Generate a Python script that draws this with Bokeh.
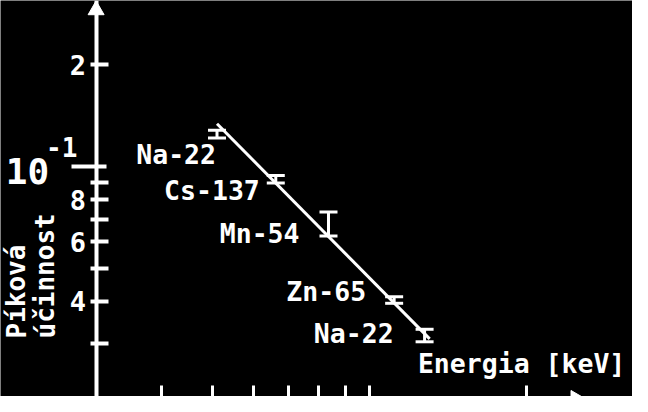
from bokeh.plotting import figure
from bokeh.models import ColumnDataSource, FixedTicker, Label, LogAxis, TeeHead, Whisker, Range1d
from bokeh.core.properties import value
from bokeh.embed import file_html
from bokeh.resources import INLINE

# body kalibrace: izotop, energie piku [keV], pikova ucinnost s chybou
izotopy = ["Na-22", "Cs-137", "Mn-54", "Zn-65", "Na-22"]
energie = [511, 662, 835, 1115, 1275]
ucinnost = [0.1249, 0.0919, 0.0660, 0.0404, 0.0317]
ucinnost_horni = [0.1282, 0.0943, 0.0735, 0.0413, 0.0331]
ucinnost_dolni = [0.1217, 0.0895, 0.0624, 0.0395, 0.0304]

# prolozena primka (krajni body)
fit_energie = [511, 1304]
fit_ucinnost = [0.134, 0.031]

# osy
y_ticks = [0.03, 0.04, 0.05, 0.06, 0.07, 0.08, 0.09, 0.2]
y_tick_labels = ["", "4", "", "6", "", "8", "", "2"]
x_ticks = [400, 500, 600, 700, 800, 900, 1000, 2000]
y_osa_x = 300       # energie, kde stoji svisla osa
x_osa_y = 0.02014   # ucinnost, kde lezi vodorovna osa (pod dolnim okrajem)

FONT = "DejaVu Sans Mono"
BILA = "white"

p = figure(
    width=632, height=396,
    x_axis_type="log", y_axis_type="log",
    x_axis_location=None, y_axis_location=None,
    x_range=Range1d(196.9, 3186), y_range=Range1d(0.02095, 0.3100),
    output_backend="svg", toolbar_location=None,
    background_fill_color="black", border_fill_color="black",
    outline_line_color=None, min_border=0,
)
p.grid.visible = False

# svisla osa
yaxis = LogAxis(
    fixed_location=y_osa_x,
    ticker=FixedTicker(ticks=y_ticks),
    major_label_overrides=dict(zip(y_ticks, y_tick_labels)),
    axis_line_color=BILA, axis_line_width=4,
    major_tick_line_color=BILA, major_tick_line_width=4,
    major_tick_in=12, major_tick_out=6, minor_tick_line_color=None,
    major_label_standoff=4,
    major_label_text_color=BILA, major_label_text_font=FONT,
    major_label_text_font_style="bold", major_label_text_font_size="27px",
)
p.add_layout(yaxis, "left")

# dlouha znacka u 10^-1
dekada = LogAxis(
    fixed_location=y_osa_x,
    ticker=FixedTicker(ticks=[0.1]),
    major_label_overrides={0.1: ""},
    axis_line_color=None,
    major_tick_line_color=BILA, major_tick_line_width=4,
    major_tick_in=10, major_tick_out=25, minor_tick_line_color=None,
)
p.add_layout(dekada, "left")

# vodorovna osa (pod okrajem obrazku, vidi se jen znacky)
xaxis = LogAxis(
    fixed_location=x_osa_y,
    ticker=FixedTicker(ticks=x_ticks),
    axis_line_color=BILA, axis_line_width=4,
    major_tick_line_color=BILA, major_tick_line_width=3,
    major_tick_in=17, major_tick_out=0, minor_tick_line_color=None,
    major_label_text_alpha=0,
)
p.add_layout(xaxis, "below")

# sipky os
p.scatter(x=[y_osa_x], y=[0.2904], marker="triangle", size=16,
          color=BILA, line_color=BILA)
p.scatter(x=[2480], y=[0.02067], marker="triangle", size=16, angle=-1.5708,
          color=BILA, line_color=BILA)

# popisek 10^-1
p.text(x=[y_osa_x], y=[0.1], text=["10"], x_offset=-47, y_offset=4,
       text_align="right", text_baseline="middle", text_color=BILA,
       text_font=value(FONT), text_font_size="36px", text_font_style="bold")
p.text(x=[y_osa_x], y=[0.1], text=["-1"], x_offset=-50, y_offset=-20,
       text_align="left", text_baseline="middle", text_color=BILA,
       text_font=value(FONT), text_font_size="26px", text_font_style="bold")

# primka
p.line(fit_energie, fit_ucinnost, line_color=BILA, line_width=3)

# chybove useky
src = ColumnDataSource(data=dict(
    x=energie, y=ucinnost, horni=ucinnost_horni, dolni=ucinnost_dolni,
    izotop=izotopy,
    dx=[-1, -16, -29, -28, -31], dy=[20, 11, 6, -8, -2],
))
p.add_layout(Whisker(
    source=src, base="x", upper="horni", lower="dolni", dimension="height",
    line_color=BILA, line_width=3,
    upper_head=TeeHead(size=18, line_color=BILA, line_width=3),
    lower_head=TeeHead(size=18, line_color=BILA, line_width=3),
))

# nazvy izotopu
p.text(x="x", y="y", text="izotop", x_offset="dx", y_offset="dy", source=src,
       text_align="right", text_baseline="middle", text_color=BILA,
       text_font=value(FONT), text_font_size="26.5px", text_font_style="bold")

# nazvy os
p.add_layout(Label(x=1238, y=0.0262, text="Energia [keV]",
                   text_align="left", text_baseline="middle", text_color=BILA,
                   text_font=FONT, text_font_size="26.5px", text_font_style="bold"))
for i, t in enumerate(["Píková", "účinnost"]):
    p.add_layout(Label(x=16 + 29 * i, y=58, x_units="screen", y_units="screen",
                       text=t, angle=1.5708, text_align="left",
                       text_baseline="alphabetic", text_color=BILA,
                       text_font=FONT, text_font_size="26px",
                       text_font_style="bold"))

open("out.html", "w").write(file_html(p, INLINE))
